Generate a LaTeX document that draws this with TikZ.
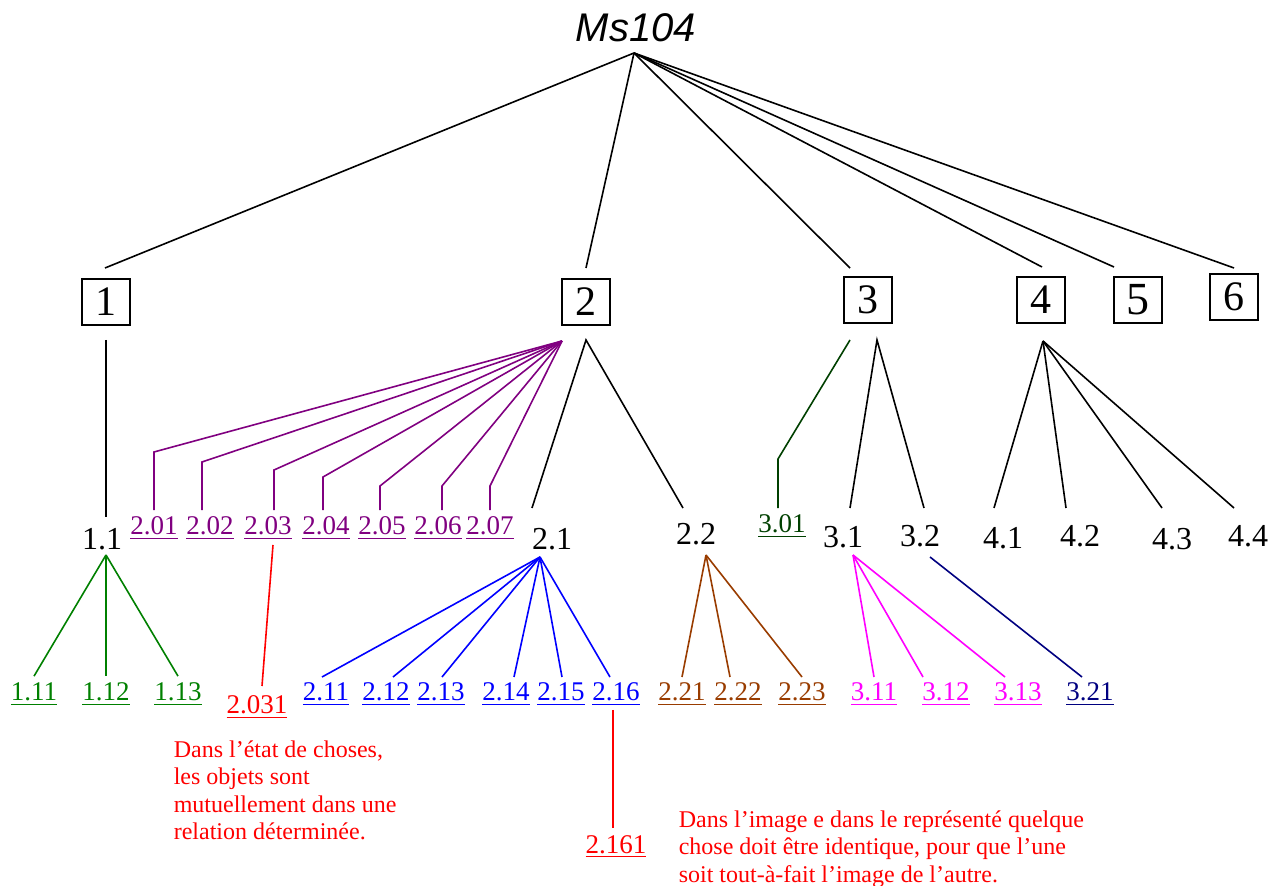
\documentclass[tikz,border=0pt]{standalone}
\usepackage{fontspec}
\setmainfont{Liberation Serif}
\newfontfamily\titlefont{Liberation Sans}
\usetikzlibrary{calc}

\definecolor{treegreen}{RGB}{0,128,0}
\definecolor{darkgreen}{RGB}{0,64,0}
\definecolor{treepurple}{RGB}{128,0,128}
\definecolor{treebrown}{RGB}{153,60,0}
\definecolor{treenavy}{RGB}{0,0,128}
\definecolor{treemagenta}{RGB}{255,0,255}
\newcommand{\lab}[1]{\underline{#1}}

\begin{document}
\begin{tikzpicture}[x=0.5pt, y=-0.5pt, line width=0.8pt,
    box/.style={draw, line width=1pt, minimum width=24pt, minimum height=23pt, inner sep=0pt, font=\fontsize{21}{21}\selectfont},
    big/.style={anchor=base, inner sep=0pt, font=\fontsize{16}{16}\selectfont},
    small/.style={anchor=base, inner sep=0pt, outer sep=3.5pt, font=\fontsize{13.5}{13.5}\selectfont},
    note/.style={anchor=north west, inner sep=0pt, align=left, text=red, font=\fontsize{12}{13.7}\selectfont}]

        \useasboundingbox (0,0) rectangle (1269,886);

        % Root and its six sections
        \node (ms) at (636,28) {\fontsize{20}{20}\selectfont\titlefont\itshape Ms104};
        \coordinate (top) at (634,53);

        \node[box] (b1) at (106,302) {1};
        \node[box] (b2) at (586,302) {2};
        \node[box] (b3) at (868,300) {3};
        \node[box] (b4) at (1041,300) {4};
        \node[box] (b5) at (1138,300) {\raisebox{-2.5pt}{\fontsize{23}{23}\selectfont 5}};
        \node[box] (b6) at (1234,297) {6};

        \coordinate (t1) at (105,268);
        \coordinate (t2) at (586,268);
        \coordinate (t3) at (850,268);
        \coordinate (t4) at (1042,267);
        \coordinate (t5) at (1114,267);
        \coordinate (t6) at (1234,268);
        \foreach \i in {1,...,6}
            \draw (top) -- (t\i);

        % First level labels
        \node[big] (n11) at (102,550) {1.1};
        \node[big] (n21) at (552,550) {2.1};
        \node[big] (n22) at (696,545) {2.2};
        \node[big] (n31) at (843,548) {3.1};
        \node[big] (n32) at (920,547) {3.2};
        \node[big] (n41) at (1003,549) {4.1};
        \node[big] (n42) at (1080,547) {4.2};
        \node[big] (n43) at (1172,550) {4.3};
        \node[big] (n44) at (1248,547) {4.4};

        % Section 1
        \coordinate (s1) at (106,340);
        \coordinate (s11) at (106,517);
        \draw (s1) -- (s11);

        % Section 2: the 2.0x remarks
        \coordinate (p2) at (562,341);
        \foreach \nm/\txt/\x/\y/\lx in {n201/2.01/154/452/154, n202/2.02/202/462/210,
                n203/2.03/274/470/268, n204/2.04/323/477/326, n205/2.05/380/486/382,
                n206/2.06/442/486/438, n207/2.07/490/486/490} {
            \node[small, text=treepurple] (\nm) at (\lx,535) {\lab{\txt}};
            \coordinate (k\nm) at (\x,\y);
            \draw[treepurple] (p2) -- (k\nm) -- (k\nm |- \nm.north);
        }

        % Section 2: 2.1 and 2.2
        \coordinate (s2) at (586,340);
        \coordinate (s21) at (532,508);
        \coordinate (s22) at (683,508);
        \draw (s21) -- (s2) -- (s22);

        % Section 3
        \coordinate (g3) at (850,340);
        \coordinate (kn301) at (778,459);
        \node[small, text=darkgreen] (n301) at (782,533) {\lab{3.01}};
        \draw[darkgreen] (g3) -- (kn301) -- (kn301 |- n301.north);
        \coordinate (s3) at (877,340);
        \coordinate (s31) at (850,508);
        \coordinate (s32) at (924,508);
        \draw (s31) -- (s3) -- (s32);

        % Section 4
        \coordinate (s4) at (1043,341);
        \foreach \j/\x in {1/994, 2/1066, 3/1162, 4/1234} {
            \coordinate (s4\j) at (\x,508);
            \draw (s4) -- (s4\j);
        }

        % Second level under 1.1
        \coordinate (a11) at (106,555);
        \foreach \nm/\txt/\x in {n111/1.11/34, n112/1.12/106, n113/1.13/178} {
            \node[small, text=treegreen] (\nm) at (\x,701) {\lab{\txt}};
            \draw[treegreen] (a11) -- (\nm.north);
        }

        % 2.031 under 2.03
        \node[small, text=red] (n2031) at (257,714) {\lab{2.031}};
        \coordinate (r203) at (273,545);
        \coordinate (e2031) at (262,686);
        \draw[red] (r203) -- (e2031);

        % Second level under 2.1
        \coordinate (a21) at (540,557);
        \foreach \nm/\txt/\x/\lx in {n211/2.11/322/326, n212/2.12/393/386, n213/2.13/442/441,
                n214/2.14/514/506, n215/2.15/562/561, n216/2.16/610/616} {
            \node[small, text=blue] (\nm) at (\lx,701) {\lab{\txt}};
            \coordinate (e\nm) at (\x,677);
            \draw[blue] (a21) -- (e\nm);
        }

        % 2.161 under 2.16
        \node[small, text=red] (n2161) at (616,853) {\lab{2.161}};
        \coordinate (r216) at (613,710);
        \draw[red] (r216) -- (r216 |- n2161.north);

        % Second level under 2.2
        \coordinate (a22) at (706,555);
        \foreach \nm/\txt/\x/\lx in {n221/2.21/682/682, n222/2.22/730/738, n223/2.23/802/802} {
            \node[small, text=treebrown] (\nm) at (\lx,701) {\lab{\txt}};
            \coordinate (e\nm) at (\x,677);
            \draw[treebrown] (a22) -- (e\nm);
        }

        % Second level under 3.1 and 3.2
        \coordinate (a31) at (853,555);
        \foreach \nm/\txt/\x/\lx in {n311/3.11/874/874, n312/3.12/923/946, n313/3.13/1005/1018} {
            \node[small, text=treemagenta] (\nm) at (\lx,701) {\lab{\txt}};
            \coordinate (e\nm) at (\x,677);
            \draw[treemagenta] (a31) -- (e\nm);
        }
        \coordinate (a32) at (930,557);
        \node[small, text=treenavy] (n321) at (1090,701) {\lab{3.21}};
        \coordinate (en321) at (1082,677);
        \draw[treenavy] (a32) -- (en321);

        % Comments
        \node[note] (c2031) at (173,740) {Dans l’état de choses,\\les objets sont\\mutuellement dans une\\relation déterminée.};
        \node[note] (c2161) at (678,810) {Dans l’image e dans le représenté quelque\\chose doit être identique, pour que l’une\\soit tout-à-fait l’image de l’autre.};

    \end{tikzpicture}
\end{document}
